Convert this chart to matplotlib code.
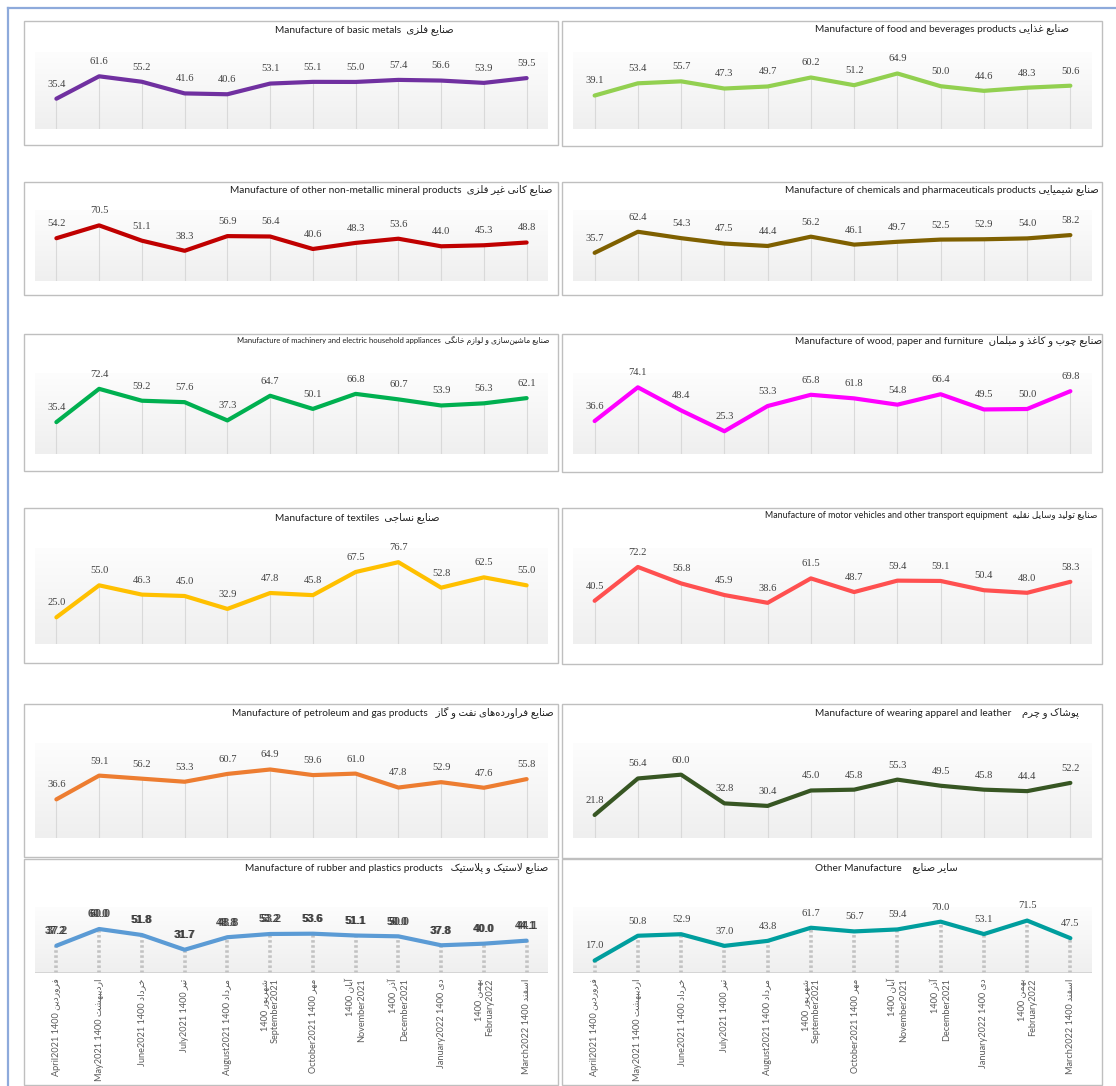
import numpy as np
import matplotlib
matplotlib.use("Agg")
import matplotlib.pyplot as plt
from matplotlib.patches import Rectangle
from matplotlib.lines import Line2D
from matplotlib.colors import LinearSegmentedColormap

# ---------------- data ----------------
months_en = ["April2021", "May2021", "June2021", "July2021", "August2021", "September2021",
             "October2021", "November2021", "December2021", "January2022", "February2022", "March2022"]
months_fa = ["فروردین", "اردیبهشت", "خرداد", "تیر", "مرداد", "شهریور",
             "مهر", "آبان", "آذر", "دی", "بهمن", "اسفند"]
year_fa = "1400"
two_line = [False, False, False, False, False, True, False, True, True, False, True, False]

basic_metals = [35.4, 61.6, 55.2, 41.6, 40.6, 53.1, 55.1, 55.0, 57.4, 56.6, 53.9, 59.5]
food_beverages = [39.1, 53.4, 55.7, 47.3, 49.7, 60.2, 51.2, 64.9, 50.0, 44.6, 48.3, 50.6]
non_metallic = [54.2, 70.5, 51.1, 38.3, 56.9, 56.4, 40.6, 48.3, 53.6, 44.0, 45.3, 48.8]
chemicals = [35.7, 62.4, 54.3, 47.5, 44.4, 56.2, 46.1, 49.7, 52.5, 52.9, 54.0, 58.2]
machinery = [35.4, 72.4, 59.2, 57.6, 37.3, 64.7, 50.1, 66.8, 60.7, 53.9, 56.3, 62.1]
wood_paper = [36.6, 74.1, 48.4, 25.3, 53.3, 65.8, 61.8, 54.8, 66.4, 49.5, 50.0, 69.8]
textiles = [25.0, 55.0, 46.3, 45.0, 32.9, 47.8, 45.8, 67.5, 76.7, 52.8, 62.5, 55.0]
motor_vehicles = [40.5, 72.2, 56.8, 45.9, 38.6, 61.5, 48.7, 59.4, 59.1, 50.4, 48.0, 58.3]
petroleum_gas = [36.6, 59.1, 56.2, 53.3, 60.7, 64.9, 59.6, 61.0, 47.8, 52.9, 47.6, 55.8]
apparel_leather = [21.8, 56.4, 60.0, 32.8, 30.4, 45.0, 45.8, 55.3, 49.5, 45.8, 44.4, 52.2]
rubber_plastics = [37.2, 60.0, 51.8, 31.7, 48.8, 53.2, 53.6, 51.1, 50.0, 37.8, 40.0, 44.1]
other_manufacture = [17.0, 50.8, 52.9, 37.0, 43.8, 61.7, 56.7, 59.4, 70.0, 53.1, 71.5, 47.5]

titles_en = ["Manufacture of basic metals", "Manufacture of food and beverages products",
             "Manufacture of other non-metallic mineral products", "Manufacture of chemicals and pharmaceuticals products",
             "Manufacture of machinery and electric household appliances", "Manufacture of wood, paper and furniture",
             "Manufacture of textiles", "Manufacture of motor vehicles and other transport equipment",
             "Manufacture of petroleum and gas products", "Manufacture of wearing apparel and leather",
             "Manufacture of rubber and plastics products", "Other Manufacture"]
titles_fa = ["صنایع فلزی", "صنایع غذایی",
             "صنایع کانی غیر فلزی", "صنایع شیمیایی",
             "صنایع ماشین‌سازی و لوازم خانگی", "صنایع چوب و کاغذ و مبلمان",
             "صنایع نساجی", "صنایع تولید وسایل نقلیه",
             "صنایع فراورده‌های نفت و گاز", "پوشاک و چرم",
             "صنایع لاستیک و پلاستیک", "سایر صنایع"]

series = [basic_metals, food_beverages, non_metallic, chemicals, machinery, wood_paper,
          textiles, motor_vehicles, petroleum_gas, apparel_leather, rubber_plastics, other_manufacture]
colors = ["#7030A0", "#92D050", "#C00000", "#7F6000", "#00B050", "#FF00FF",
          "#FFC000", "#FF5050", "#ED7D31", "#375623", "#5B9BD5", "#009E9E"]

# ---------------- simple Persian shaping (presentation forms, visual order) ----------------
FORMS = {
    'ا': ('\uFE8D', '\uFE8E', None, None), 'آ': ('\uFE81', '\uFE82', None, None),
    'ب': ('\uFE8F', '\uFE90', '\uFE91', '\uFE92'), 'پ': ('\uFB56', '\uFB57', '\uFB58', '\uFB59'),
    'ت': ('\uFE95', '\uFE96', '\uFE97', '\uFE98'), 'ج': ('\uFE9D', '\uFE9E', '\uFE9F', '\uFEA0'),
    'چ': ('\uFB7A', '\uFB7B', '\uFB7C', '\uFB7D'), 'خ': ('\uFEA5', '\uFEA6', '\uFEA7', '\uFEA8'),
    'د': ('\uFEA9', '\uFEAA', None, None), 'ذ': ('\uFEAB', '\uFEAC', None, None),
    'ر': ('\uFEAD', '\uFEAE', None, None), 'ز': ('\uFEAF', '\uFEB0', None, None),
    'س': ('\uFEB1', '\uFEB2', '\uFEB3', '\uFEB4'), 'ش': ('\uFEB5', '\uFEB6', '\uFEB7', '\uFEB8'),
    'ص': ('\uFEB9', '\uFEBA', '\uFEBB', '\uFEBC'), 'ع': ('\uFEC9', '\uFECA', '\uFECB', '\uFECC'),
    'غ': ('\uFECD', '\uFECE', '\uFECF', '\uFED0'), 'ف': ('\uFED1', '\uFED2', '\uFED3', '\uFED4'),
    'ق': ('\uFED5', '\uFED6', '\uFED7', '\uFED8'), 'ک': ('\uFB8E', '\uFB8F', '\uFB90', '\uFB91'),
    'گ': ('\uFB92', '\uFB93', '\uFB94', '\uFB95'), 'ل': ('\uFEDD', '\uFEDE', '\uFEDF', '\uFEE0'),
    'م': ('\uFEE1', '\uFEE2', '\uFEE3', '\uFEE4'), 'ن': ('\uFEE5', '\uFEE6', '\uFEE7', '\uFEE8'),
    'ه': ('\uFEE9', '\uFEEA', '\uFEEB', '\uFEEC'), 'و': ('\uFEED', '\uFEEE', None, None),
    'ی': ('\uFBFC', '\uFBFD', '\uFBFE', '\uFBFF'),
}


def fa(s):
    ch = list(s)
    n = len(ch)
    res = []
    i = 0
    while i < n:
        c = ch[i]
        if c not in FORMS:
            if c != '\u200c':
                res.append(c)
            i += 1
            continue
        prev = ch[i - 1] if i > 0 else None
        jp = prev in FORMS and FORMS[prev][2] is not None
        if c == 'ل' and i + 1 < n and ch[i + 1] == 'ا':
            res.append('\uFEFC' if jp else '\uFEFB')
            i += 2
            continue
        nxt = ch[i + 1] if i + 1 < n else None
        jn = nxt in FORMS and FORMS[c][2] is not None
        iso, fin, ini, med = FORMS[c]
        if jp and jn:
            res.append(med)
        elif jp:
            res.append(fin)
        elif jn:
            res.append(ini)
        else:
            res.append(iso)
        i += 1
    return ''.join(reversed(res))


# ---------------- layout (pixels) ----------------
W, H = 1116, 1086
fig = plt.figure(figsize=(W / 100, H / 100), dpi=100)
fig.patch.set_facecolor("white")

col_box_x = [(24, 558), (562, 1102)]
col_plot_x = [(35, 548), (573, 1092)]
row_box_y = [[(21, 145), (21, 146)], [(182, 295), (182, 295)], [(334, 471), (334, 472)],
             [(508, 663), (508, 664)], [(704, 857), (704, 858)], [(859, 1085), (859, 1085)]]
row_plot_y = [(52, 129), (210, 281), (373, 454), (548, 644), (743, 838), (907, 973)]
title_x = [275, 815, 230, 785, 237, 795, 275, 765, 232, 815, 245, 815]
title_y = [30, 29, 190, 190, 340, 341, 518, 516, 713, 713, 868, 868]
title_fs = [7.3, 7.3, 7.3, 7.3, 5.5, 7.3, 7.3, 6.4, 7.3, 7.3, 7.3, 7.3]
title_gap = ["  ", " ", "  ", " ", "  ", "  ", "  ", "  ", "   ", "    ", "   ", "    "]

TFONT = ["Lato", "DejaVu Sans"]


def fx(px):
    return px / W


def fy(py):
    return 1 - py / H


# blue page border
fig.add_artist(Line2D([fx(8), fx(8)], [fy(8), fy(H)], color="#8EAADB", lw=1.6))
fig.add_artist(Line2D([fx(8), fx(W)], [fy(8), fy(8)], color="#8EAADB", lw=1.6))

grad_cmap = LinearSegmentedColormap.from_list("g", ["#EFEFEF", "#FDFDFD"])
grad = np.linspace(0, 1, 100).reshape(-1, 1)

for k, vals in enumerate(series):
    r, c = divmod(k, 2)
    bx0, bx1 = col_box_x[c]
    by0, by1 = row_box_y[r][c]
    fig.add_artist(Rectangle((fx(bx0), fy(by1)), (bx1 - bx0) / W, (by1 - by0) / H,
                             transform=fig.transFigure, facecolor="white",
                             edgecolor="#BFBFBF", lw=1.0, zorder=0))
    px0, px1 = col_plot_x[c]
    py0, py1 = row_plot_y[r]
    ax = fig.add_axes([fx(px0), fy(py1), (px1 - px0) / W, (py1 - py0) / H])
    ax.set_xlim(-0.5, 11.5)
    ax.set_ylim(0, 90)
    ax.imshow(grad, extent=(-0.5, 11.5, 0, 90), aspect="auto", cmap=grad_cmap,
              origin="lower", zorder=0)
    for s in ax.spines.values():
        s.set_visible(False)
    x = np.arange(len(vals))
    last = (r == 5)
    if last:
        ax.vlines(x, 0, vals, colors="#C2C2C2", lw=2.6, linestyles=(0, (0.7, 0.7)), zorder=1)
        ax.axhline(0, color="#D0D0D0", lw=1.2, zorder=1)
    else:
        ax.vlines(x, 0, vals, colors="#D9D9D9", lw=0.8, zorder=1)
    ax.plot(x, vals, color=colors[k], lw=3.0, solid_capstyle="round",
            solid_joinstyle="round", zorder=3)
    for xi, v in zip(x, vals):
        if k == 10:
            for dx in (-0.5, 0.5):
                ax.annotate(f"{v:.1f}", (xi, v), xytext=(dx, 10.5), textcoords="offset points",
                            ha="center", va="center", fontsize=7.8, color="#303030",
                            family="Liberation Sans", fontweight="bold", zorder=4,
                            annotation_clip=False, alpha=0.8)
        else:
            ax.annotate(f"{v:.1f}", (xi, v), xytext=(0, 10.5), textcoords="offset points",
                        ha="center", va="center", fontsize=7.6, color="#404040",
                        family="Liberation Serif", zorder=4, annotation_clip=False)
    if last:
        labels = []
        for en, m, tl in zip(months_en, months_fa, two_line):
            if tl:
                labels.append(year_fa + " " + fa(m) + "\n" + en)
            else:
                labels.append(en + " " + year_fa + " " + fa(m))
        ax.set_xticks(x)
        ax.set_xticklabels(labels, rotation=90, fontsize=6.6, color="#595959", family=TFONT)
        for t in ax.get_xticklabels():
            t.set_multialignment("right")
            t.set_linespacing(1.25)
        ax.tick_params(axis="x", length=0, pad=4)
        ax.set_yticks([])
    else:
        ax.set_xticks([])
        ax.set_yticks([])
    fig.text(fx(title_x[k]), fy(title_y[k]), titles_en[k] + title_gap[k] + fa(titles_fa[k]),
             ha="left", va="center", fontsize=title_fs[k], color="#202020", family=TFONT)

fig.savefig("out.png", dpi=100)
